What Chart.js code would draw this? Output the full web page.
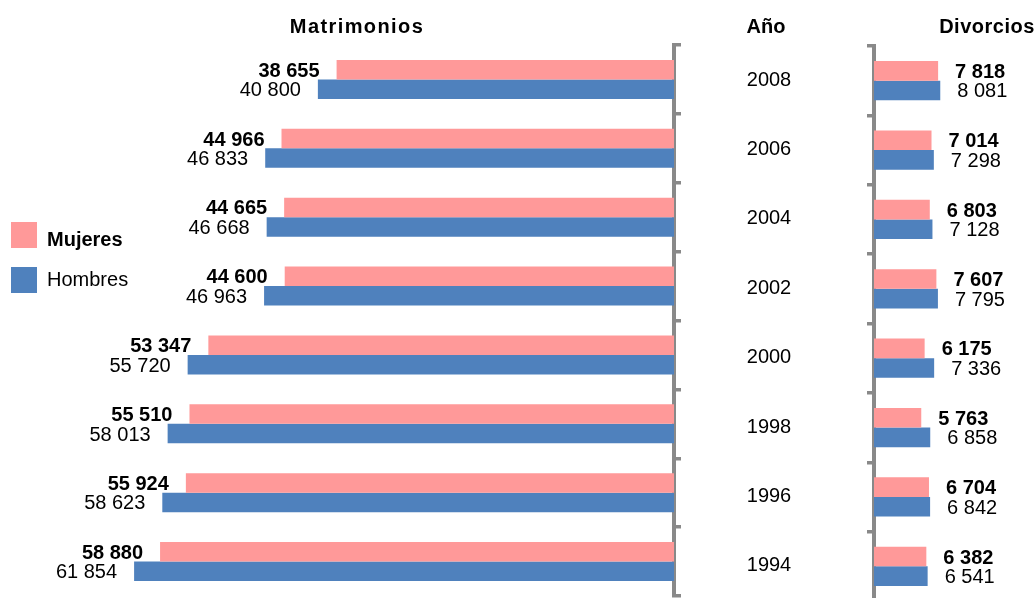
<!DOCTYPE html>
<html>
<head>
<meta charset="utf-8">
<script src="https://cdn.jsdelivr.net/npm/chart.js"></script>
<style>
  html, body { margin: 0; padding: 0; background: #fff; overflow: hidden; }
  body { width: 1036px; height: 598px; position: relative; }
  canvas { position: absolute; top: 0; }
  #left { left: 0; }
  #right { left: 700px; }
</style>
</head>
<body>
<canvas id="left" width="690" height="598"></canvas>
<canvas id="right" width="338" height="604"></canvas>
<script>
// data, top to bottom
const years = ['2008', '2006', '2004', '2002', '2000', '1998', '1996', '1994'];
const matrimoniosMujeres = [38655, 44966, 44665, 44600, 53347, 55510, 55924, 58880];
const matrimoniosHombres = [40800, 46833, 46668, 46963, 55720, 58013, 58623, 61854];
const divorciosMujeres = [7818, 7014, 6803, 7607, 6175, 5763, 6704, 6382];
const divorciosHombres = [8081, 7298, 7128, 7795, 7336, 6858, 6842, 6541];
const seriesNames = ['Mujeres', 'Hombres'];

const pink = '#FF9999';
const blue = '#4F81BD';
const gray = '#898989';
const font = "'Liberation Sans', Arial, sans-serif";

function fmt(v) {
  return String(v).replace(/\B(?=(\d{3})+(?!\d))/g, ' ');
}

// value labels next to the bar ends
function valueLabels(side) {
  return {
    id: 'valueLabels',
    afterDatasetsDraw(chart) {
      const ctx = chart.ctx;
      ctx.save();
      ctx.fillStyle = '#000';
      ctx.textBaseline = 'alphabetic';
      chart.data.datasets.forEach((ds, di) => {
        ctx.font = (di === 0 ? 'bold ' : '') + '20px ' + font;
        chart.getDatasetMeta(di).data.forEach((bar, i) => {
          if (side === 'left') {
            ctx.textAlign = 'right';
            ctx.fillText(fmt(ds.data[i]), bar.x - 17, bar.y + 7);
          } else {
            ctx.textAlign = 'left';
            ctx.fillText(fmt(ds.data[i]), bar.x + 17, bar.y + 7);
          }
        });
      });
      ctx.restore();
    }
  };
}

const leftExtras = {
  id: 'leftExtras',
  afterDraw(chart) {
    const ctx = chart.ctx;
    ctx.save();
    ctx.fillStyle = '#000';
    ctx.textAlign = 'center';
    ctx.font = 'bold 20px ' + font;
    ctx.letterSpacing = '1.4px';
    ctx.fillText('Matrimonios', 357, 33);
    ctx.letterSpacing = '0px';
    // legend
    const colors = [pink, blue];
    const tops = [222, 267];
    const bases = [246, 286];
    seriesNames.forEach((name, i) => {
      ctx.fillStyle = colors[i];
      ctx.fillRect(11, tops[i], 26, 26);
      ctx.fillStyle = '#000';
      ctx.textAlign = 'left';
      ctx.font = (i === 0 ? 'bold ' : '') + '20px ' + font;
      ctx.fillText(name, 47, bases[i]);
    });
    ctx.restore();
  }
};

const rightExtras = {
  id: 'rightExtras',
  afterDraw(chart) {
    const ctx = chart.ctx;
    const y = chart.scales.y;
    ctx.save();
    ctx.fillStyle = '#000';
    ctx.textAlign = 'center';
    ctx.font = 'bold 20px ' + font;
    ctx.fillText('Año', 66, 33);
    ctx.letterSpacing = '0.5px';
    ctx.fillText('Divorcios', 287, 33);
    ctx.letterSpacing = '0px';
    ctx.font = '20px ' + font;
    chart.data.labels.forEach((lab, i) => {
      ctx.fillText(lab, 69, y.getPixelForValue(i) + 5);
    });
    ctx.restore();
  }
};

function axisY(position, width) {
  return {
    position: position,
    grid: {
      drawOnChartArea: false,
      drawTicks: true,
      tickLength: 7,
      tickWidth: 3.5,
      tickColor: gray,
      lineWidth: 3.5,
      color: gray
    },
    border: { display: true, width: 4, color: gray },
    ticks: { display: false },
    afterFit: (s) => { s.width = width; }
  };
}

const common = {
  indexAxis: 'y',
  responsive: false,
  animation: false,
  datasets: { bar: { categoryPercentage: 0.565, barPercentage: 1 } },
  plugins: { legend: { display: false }, tooltip: { enabled: false } }
};

new Chart(document.getElementById('left'), {
  type: 'bar',
  data: {
    labels: years,
    datasets: [
      { label: seriesNames[0], data: matrimoniosMujeres, backgroundColor: pink },
      { label: seriesNames[1], data: matrimoniosHombres, backgroundColor: blue }
    ]
  },
  options: Object.assign({}, common, {
    layout: { padding: { left: 63, top: 45, bottom: 2, right: 0 } },
    scales: {
      x: { reverse: true, min: 0, max: 70000, display: false },
      y: axisY('right', 16)
    }
  }),
  plugins: [valueLabels('left'), leftExtras]
});

new Chart(document.getElementById('right'), {
  type: 'bar',
  data: {
    labels: years,
    datasets: [
      { label: seriesNames[0], data: divorciosMujeres, backgroundColor: pink },
      { label: seriesNames[1], data: divorciosHombres, backgroundColor: blue }
    ]
  },
  options: Object.assign({}, common, {
    layout: { padding: { left: 150, top: 46, bottom: 3, right: 0 } },
    scales: {
      x: { min: 0, max: 20000, display: false },
      y: axisY('left', 24)
    }
  }),
  plugins: [valueLabels('right'), rightExtras]
});
</script>
</body>
</html>
